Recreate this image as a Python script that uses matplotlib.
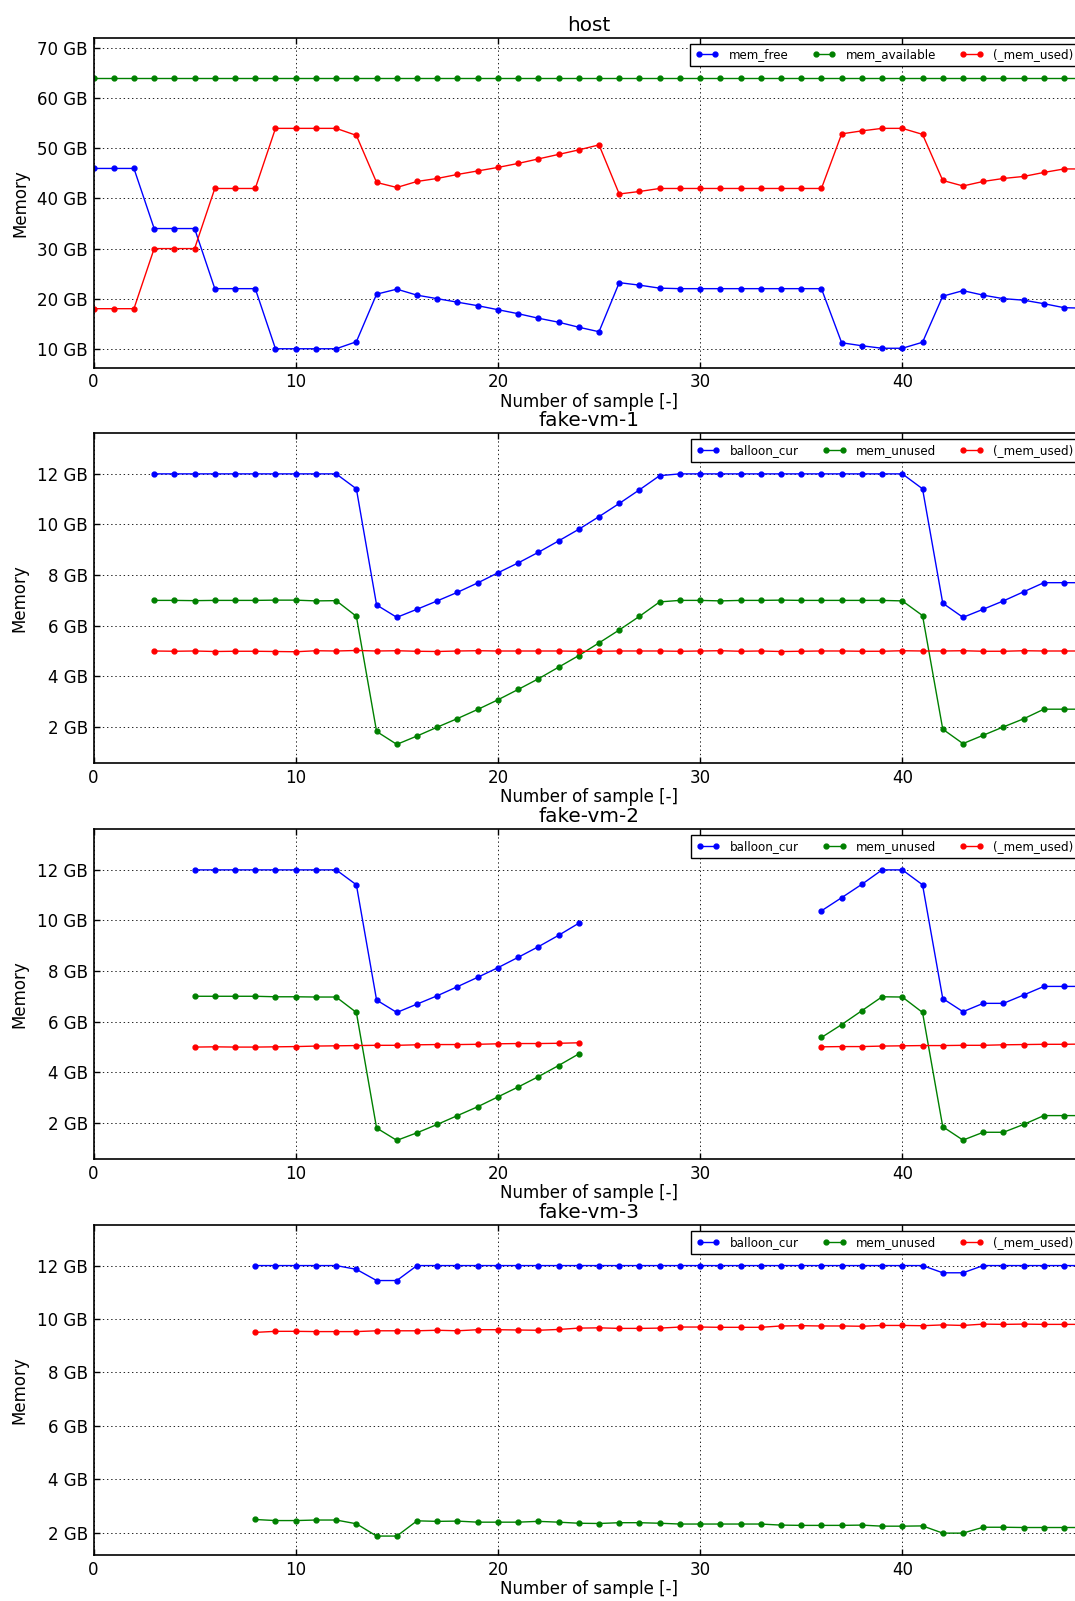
import numpy as np
import matplotlib
matplotlib.use("Agg")
import matplotlib.pyplot as plt
from matplotlib.ticker import FixedLocator, FuncFormatter

nan = np.nan

# Sample index shared by every panel
samples = list(range(50))

# ---- host (GB) ----
host_mem_free = [
    46.0, 46.0, 46.0, 34.0, 34.0, 34.0, 22.0, 22.0, 22.0, 10.0,
    10.0, 10.0, 10.0, 11.4, 20.9, 21.9, 20.7, 20.0, 19.3, 18.6,
    17.8, 17.0, 16.1, 15.3, 14.3, 13.4, 23.2, 22.7, 22.1, 22.0,
    22.0, 22.0, 22.0, 22.0, 22.0, 22.0, 22.0, 11.2, 10.6, 10.1,
    10.1, 11.3, 20.5, 21.6, 20.7, 20.0, 19.7, 19.0, 18.2, 18.1,
]
host_mem_available = [
    64.0, 64.0, 64.0, 64.0, 64.0, 64.0, 64.0, 64.0, 64.0, 64.0,
    64.0, 64.0, 64.0, 64.0, 64.0, 64.0, 64.0, 64.0, 64.0, 64.0,
    64.0, 64.0, 64.0, 64.0, 64.0, 64.0, 64.0, 64.0, 64.0, 64.0,
    64.0, 64.0, 64.0, 64.0, 64.0, 64.0, 64.0, 64.0, 64.0, 64.0,
    64.0, 64.0, 64.0, 64.0, 64.0, 64.0, 64.0, 64.0, 64.0, 64.0,
]
host_mem_used = [
    18.0, 18.0, 18.0, 30.0, 30.0, 30.0, 42.0, 42.0, 42.0, 54.0,
    54.0, 54.0, 54.0, 52.6, 43.2, 42.2, 43.4, 44.0, 44.8, 45.5,
    46.2, 47.0, 47.9, 48.8, 49.7, 50.7, 40.9, 41.4, 42.0, 42.0,
    42.0, 42.0, 42.0, 42.0, 42.0, 42.0, 42.0, 52.9, 53.5, 54.0,
    54.0, 52.8, 43.6, 42.5, 43.4, 44.0, 44.4, 45.2, 45.9, 45.9,
]

# ---- fake-vm-1 (GB) ----
vm1_balloon_cur = [
    nan, nan, nan, 12.0, 12.0, 12.0, 12.0, 12.0, 12.0, 12.0,
    12.0, 12.0, 12.0, 11.41, 6.82, 6.33, 6.65, 6.98, 7.32, 7.69,
    8.09, 8.48, 8.90, 9.35, 9.81, 10.31, 10.83, 11.37, 11.93, 12.0,
    12.0, 12.0, 12.0, 12.0, 12.0, 12.0, 12.0, 12.0, 12.0, 12.0,
    12.0, 11.41, 6.89, 6.33, 6.65, 6.98, 7.34, 7.70, 7.70, 7.70,
]
vm1_mem_unused = [
    nan, nan, nan, 7.00, 7.00, 6.99, 7.00, 7.00, 7.00, 7.01,
    7.01, 6.98, 6.99, 6.37, 1.82, 1.31, 1.64, 1.99, 2.33, 2.69,
    3.07, 3.48, 3.90, 4.36, 4.82, 5.32, 5.83, 6.37, 6.94, 7.00,
    7.00, 6.98, 7.00, 7.00, 7.01, 7.00, 7.00, 7.00, 7.00, 7.00,
    6.98, 6.40, 1.91, 1.34, 1.67, 2.00, 2.32, 2.70, 2.70, 2.70,
]
vm1_mem_used = [
    nan, nan, nan, 5.00, 4.99, 5.00, 4.98, 4.99, 4.99, 4.98,
    4.97, 5.01, 5.00, 5.02, 5.00, 5.01, 4.99, 4.98, 5.00, 5.01,
    5.00, 5.00, 5.00, 5.00, 4.99, 4.99, 5.00, 5.00, 5.00, 4.99,
    5.00, 5.01, 4.99, 5.00, 4.98, 4.99, 5.00, 5.00, 4.99, 4.99,
    5.01, 5.00, 5.00, 5.01, 4.99, 4.99, 5.01, 5.00, 5.00, 5.00,
]

# ---- fake-vm-2 (GB) ----
vm2_balloon_cur = [
    nan, nan, nan, nan, nan, 12.0, 12.0, 12.0, 12.0, 12.0,
    12.0, 12.0, 12.0, 11.41, 6.85, 6.36, 6.69, 7.02, 7.38, 7.75,
    8.13, 8.54, 8.96, 9.41, 9.89, nan, nan, nan, nan, nan,
    nan, nan, nan, nan, nan, nan, 10.38, 10.90, 11.43, 12.0,
    12.0, 11.41, 6.91, 6.39, 6.72, 6.72, 7.05, 7.39, 7.39, 7.39,
]
vm2_mem_unused = [
    nan, nan, nan, nan, nan, 7.00, 7.00, 7.00, 7.00, 6.98,
    6.98, 6.97, 6.97, 6.36, 1.79, 1.30, 1.60, 1.93, 2.28, 2.63,
    3.02, 3.41, 3.82, 4.26, 4.72, nan, nan, nan, nan, nan,
    nan, nan, nan, nan, nan, nan, 5.37, 5.88, 6.43, 6.98,
    6.97, 6.36, 1.84, 1.31, 1.62, 1.62, 1.93, 2.28, 2.28, 2.28,
]
vm2_mem_used = [
    nan, nan, nan, nan, nan, 4.99, 5.00, 4.99, 4.99, 5.00,
    5.01, 5.03, 5.04, 5.05, 5.06, 5.06, 5.08, 5.09, 5.09, 5.10,
    5.12, 5.13, 5.13, 5.14, 5.16, nan, nan, nan, nan, nan,
    nan, nan, nan, nan, nan, nan, 5.00, 5.01, 5.01, 5.03,
    5.04, 5.05, 5.05, 5.06, 5.06, 5.08, 5.09, 5.10, 5.10, 5.11,
]

# ---- fake-vm-3 (GB) ----
vm3_balloon_cur = [
    nan, nan, nan, nan, nan, nan, nan, nan, 12.0, 12.0,
    12.0, 12.0, 12.0, 11.86, 11.44, 11.44, 12.0, 12.0, 12.0, 12.0,
    12.0, 12.0, 12.0, 12.0, 12.0, 12.0, 12.0, 12.0, 12.0, 12.0,
    12.0, 12.0, 12.0, 12.0, 12.0, 12.0, 12.0, 12.0, 12.0, 12.0,
    12.0, 12.0, 11.73, 11.73, 12.0, 12.0, 12.0, 12.0, 12.0, 12.0,
]
vm3_mem_unused = [
    nan, nan, nan, nan, nan, nan, nan, nan, 2.50, 2.46,
    2.46, 2.48, 2.48, 2.34, 1.88, 1.88, 2.45, 2.43, 2.44, 2.40,
    2.40, 2.40, 2.43, 2.40, 2.36, 2.35, 2.38, 2.38, 2.36, 2.33,
    2.33, 2.33, 2.33, 2.33, 2.29, 2.28, 2.28, 2.28, 2.29, 2.25,
    2.25, 2.26, 1.99, 1.99, 2.21, 2.21, 2.20, 2.20, 2.20, 2.20,
]
vm3_mem_used = [
    nan, nan, nan, nan, nan, nan, nan, nan, 9.50, 9.54,
    9.54, 9.53, 9.53, 9.53, 9.56, 9.56, 9.56, 9.58, 9.56, 9.60,
    9.60, 9.59, 9.58, 9.61, 9.66, 9.67, 9.65, 9.65, 9.66, 9.70,
    9.70, 9.69, 9.69, 9.69, 9.74, 9.75, 9.74, 9.74, 9.73, 9.76,
    9.76, 9.75, 9.78, 9.76, 9.81, 9.80, 9.81, 9.80, 9.80, 9.80,
]

host_yticks = [10, 20, 30, 40, 50, 60, 70]
vm_yticks = [2, 4, 6, 8, 10, 12]
xticks = [0, 10, 20, 30, 40]

panels = [
    ("host", [("mem_free", host_mem_free), ("mem_available", host_mem_available),
              ("(_mem_used)", host_mem_used)], host_yticks),
    ("fake-vm-1", [("balloon_cur", vm1_balloon_cur), ("mem_unused", vm1_mem_unused),
                   ("(_mem_used)", vm1_mem_used)], vm_yticks),
    ("fake-vm-2", [("balloon_cur", vm2_balloon_cur), ("mem_unused", vm2_mem_unused),
                   ("(_mem_used)", vm2_mem_used)], vm_yticks),
    ("fake-vm-3", [("balloon_cur", vm3_balloon_cur), ("mem_unused", vm3_mem_unused),
                   ("(_mem_used)", vm3_mem_used)], vm_yticks),
]

colors = ["#0000ff", "#008000", "#ff0000"]

plt.rcParams["font.family"] = ["DejaVu Sans"]
plt.rcParams["lines.scale_dashes"] = False

W, H = 1075, 1601
fig = plt.figure(figsize=(W / 100, H / 100), dpi=100, facecolor="white")

left_px, right_px = 93.5, 1084.3
tops_px = [37.7, 433.3, 829.3, 1225.0]
height_px = 330.0

gb_fmt = FuncFormatter(lambda v, pos: "%d GB" % v)

for (title, series, yticks), top in zip(panels, tops_px):
    ax = fig.add_axes([left_px / W, 1 - (top + height_px) / H,
                       (right_px - left_px) / W, height_px / H])
    allv = []
    for (label, values), c in zip(series, colors):
        ax.plot(samples, values, color=c, marker=".", markersize=7,
                linewidth=1.0, label=label)
        allv.extend(v for v in values if not np.isnan(v))
    lo, hi = min(allv), max(allv)
    rng = hi - lo
    ax.set_ylim(lo - 0.07 * rng, hi + 0.15 * rng)
    ax.set_xlim(samples[0], samples[-1])
    ax.xaxis.set_major_locator(FixedLocator(xticks))
    ax.yaxis.set_major_locator(FixedLocator(yticks))
    ax.yaxis.set_major_formatter(gb_fmt)
    ax.grid(True, color="black", linestyle=(0, (1, 2)), linewidth=0.6)
    ax.tick_params(direction="in", top=True, right=True, length=4, width=1,
                   labelsize=12, pad=4)
    for sp in ax.spines.values():
        sp.set_linewidth(1.2)
    ax.set_title(title, fontsize=14.4, pad=5)
    ax.set_xlabel("Number of sample [-]", fontsize=12, labelpad=1)
    ax.set_ylabel("Memory", fontsize=12, labelpad=6)
    leg = ax.legend(loc="upper right", ncol=3, fontsize=8.6, numpoints=2,
                    fancybox=False, framealpha=1, borderaxespad=0.5)
    leg.get_frame().set_edgecolor("black")
    leg.get_frame().set_linewidth(1.0)

fig.savefig("out.png", dpi=100, facecolor="white")
